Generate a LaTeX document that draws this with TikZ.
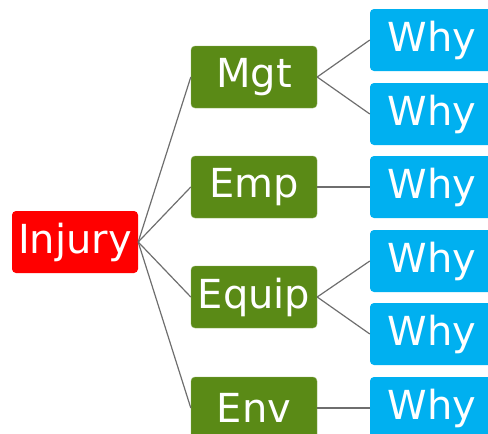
\documentclass[tikz,border=0pt]{standalone}
\usepackage{fontspec}
\setmainfont{DejaVu Sans}
\definecolor{rootred}{HTML}{FF0000}
\definecolor{catgreen}{HTML}{5A8A16}
\definecolor{whyblue}{HTML}{00B0F0}
\definecolor{linkgray}{HTML}{6E6E6E}
\tikzset{
  box/.style={rounded corners=4pt, minimum height=62pt, inner sep=0pt,
              text=white, font=\fontsize{40}{44}\selectfont},
  rootbox/.style={box, fill=rootred, minimum width=126pt},
  catbox/.style={box, fill=catgreen, draw=catgreen!70!white, line width=0.4pt, minimum width=126pt},
  whybox/.style={box, fill=whyblue, minimum width=124pt},
  link/.style={draw=linkgray, line width=1.2pt}
}
\begin{document}
\begin{tikzpicture}[x=1pt,y=-1pt]
\clip (0,0) rectangle (488,434);
% root
\node[rootbox] (inj) at (75,242) {Injury};
% categories
\node[catbox] (mgt) at (254,77) {Mgt};
\node[catbox] (emp) at (254,187) {Emp};
\node[catbox] (equ) at (254,297) {Equip};
\node[catbox] (env) at (254,408) {Env};
% why boxes
\node[whybox] (w1) at (432,40) {Why};
\node[whybox] (w2) at (432,114) {Why};
\node[whybox] (w3) at (432,187) {Why};
\node[whybox] (w4) at (432,261) {Why};
\node[whybox] (w5) at (432,334) {Why};
\node[whybox] (w6) at (432,408) {Why};
% connectors
\foreach \c in {mgt,emp,equ,env}
  \path[link] (inj.east) -- (\c.west);
\path[link] (mgt.east) -- (w1.west);
\path[link] (mgt.east) -- (w2.west);
\path[link] (emp.east) -- (w3.west);
\path[link] (equ.east) -- (w4.west);
\path[link] (equ.east) -- (w5.west);
\path[link] (env.east) -- (w6.west);
\end{tikzpicture}
\end{document}
